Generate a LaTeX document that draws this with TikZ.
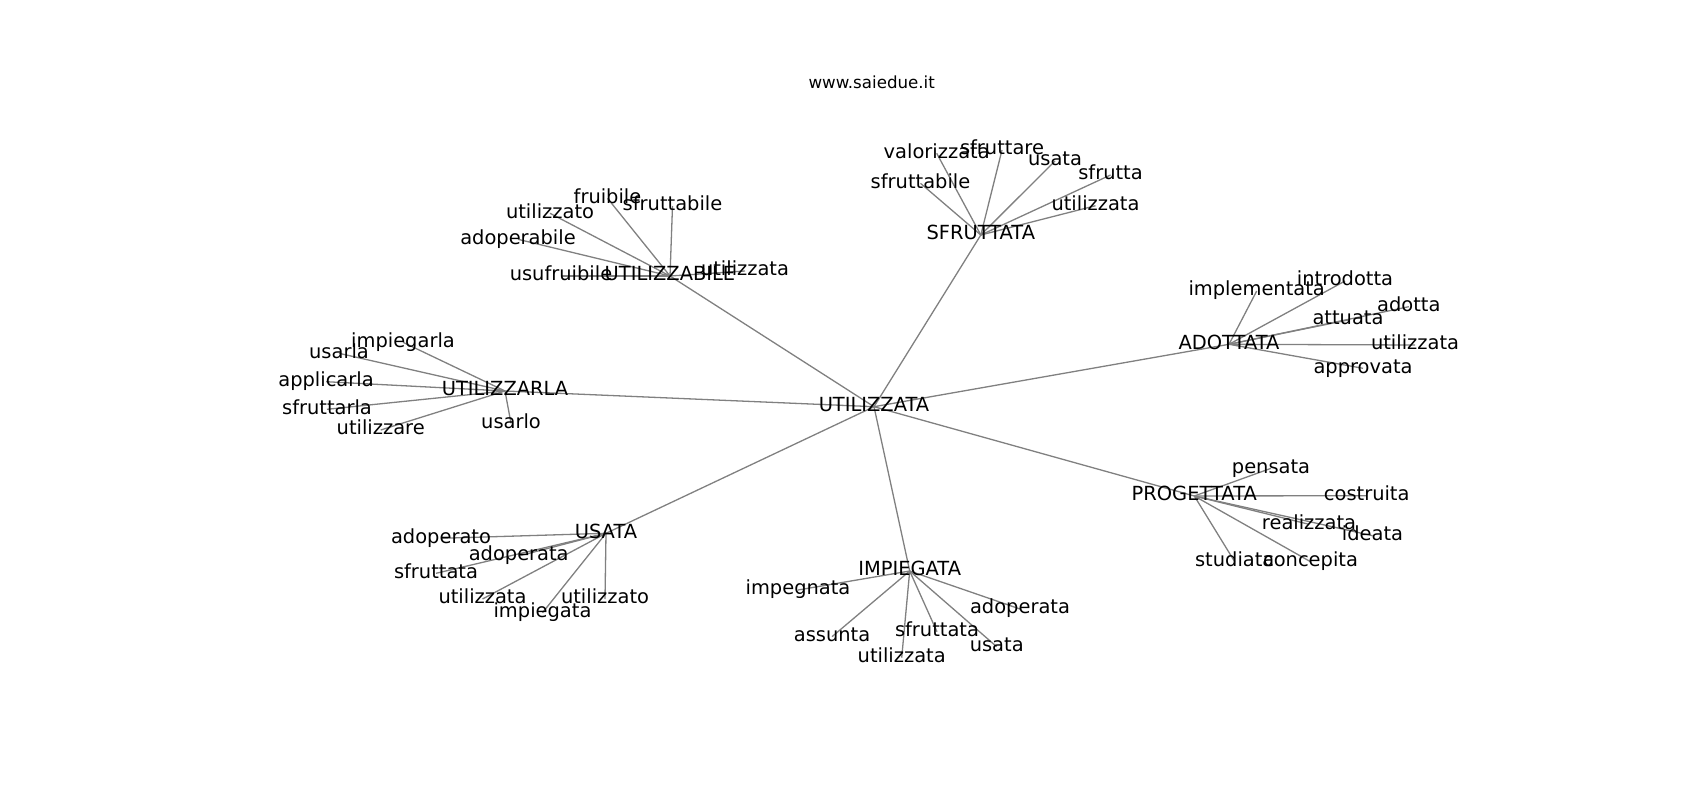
\documentclass[tikz,border=0pt]{standalone}
\usepackage{fontspec}
\setmainfont{DejaVu Sans}
\usetikzlibrary{backgrounds}
\definecolor{edgegray}{rgb}{0.5,0.5,0.5}
\tikzset{
  lbl/.style={inner sep=0pt, outer sep=0pt, anchor=center, text height=0.97em, text depth=0em,
    font=\fontsize{19.44}{23}\selectfont, text=black},
  ttl/.style={inner sep=0pt, outer sep=0pt, anchor=base, font=\fontsize{16.67}{20}\selectfont, text=black},
  edge/.style={draw=edgegray, line width=1.3pt}
}
\begin{document}
\begin{tikzpicture}[x=1pt,y=-1pt]
\useasboundingbox (0,0) rectangle (1700,800);
\node[ttl] (title) at (871.7,88.3) {www.saiedue.it};
% centre
\node[lbl] (C) at (874,406.7) {UTILIZZATA};
% UTILIZZABILE
\node[lbl] (H1) at (670,276) {UTILIZZABILE};
\node[lbl] (a1) at (561,276) {usufruibile};
\node[lbl] (a2) at (745,271) {utilizzata};
\node[lbl] (a3) at (607.5,198.3) {fruibile};
\node[lbl] (a4) at (672.5,206) {sfruttabile};
\node[lbl] (a5) at (550,213.3) {utilizzato};
\node[lbl] (a6) at (518,239.3) {adoperabile};
% UTILIZZARLA
\node[lbl] (H2) at (505,391) {UTILIZZARLA};
\node[lbl] (b1) at (403,342.3) {impiegarla};
\node[lbl] (b2) at (339,353.3) {usarla};
\node[lbl] (b3) at (326,381.7) {applicarla};
\node[lbl] (b4) at (327,409.3) {sfruttarla};
\node[lbl] (b5) at (380.7,430) {utilizzare};
\node[lbl] (b6) at (511,423.3) {usarlo};
% USATA
\node[lbl] (H3) at (606,533.3) {USATA};
\node[lbl] (c1) at (441,538.3) {adoperato};
\node[lbl] (c2) at (518.7,556) {adoperata};
\node[lbl] (c3) at (436,573.3) {sfruttata};
\node[lbl] (c4) at (482.5,599) {utilizzata};
\node[lbl] (c5) at (542.5,612.7) {impiegata};
\node[lbl] (c6) at (605,599) {utilizzato};
% IMPIEGATA
\node[lbl] (H4) at (909.7,571) {IMPIEGATA};
\node[lbl] (d1) at (798,590) {impegnata};
\node[lbl] (d2) at (1020,609) {adoperata};
\node[lbl] (d3) at (832,636.7) {assunta};
\node[lbl] (d4) at (937,631.7) {sfruttata};
\node[lbl] (d5) at (996.7,646.7) {usata};
\node[lbl] (d6) at (901.7,657.7) {utilizzata};
% ADOTTATA
\node[lbl] (H5) at (1229,344.3) {ADOTTATA};
\node[lbl] (e1) at (1256.7,291) {implementata};
\node[lbl] (e2) at (1345,281) {introdotta};
\node[lbl] (e3) at (1408.8,306.7) {adotta};
\node[lbl] (e4) at (1348,320) {attuata};
\node[lbl] (e5) at (1415,345) {utilizzata};
\node[lbl] (e6) at (1363,368.3) {approvata};
% SFRUTTATA
\node[lbl] (H6) at (980.8,235) {SFRUTTATA};
\node[lbl] (f1) at (936.7,153.3) {valorizzata};
\node[lbl] (f2) at (1002,150) {sfruttare};
\node[lbl] (f3) at (1055,161) {usata};
\node[lbl] (f4) at (920.5,183.3) {sfruttabile};
\node[lbl] (f5) at (1110.5,175) {sfrutta};
\node[lbl] (f6) at (1095.5,205.7) {utilizzata};
% PROGETTATA
\node[lbl] (H7) at (1194.3,496) {PROGETTATA};
\node[lbl] (g1) at (1271,468.3) {pensata};
\node[lbl] (g2) at (1366.7,495.7) {costruita};
\node[lbl] (g3) at (1309,524.3) {realizzata};
\node[lbl] (g4) at (1372.5,535.7) {ideata};
\node[lbl] (g5) at (1234.7,561.7) {studiata};
\node[lbl] (g6) at (1310.5,561.7) {concepita};
\begin{scope}[on background layer]
\foreach \h in {H1,H2,H3,H4,H5,H6,H7}{\draw[edge] (C.center) -- (\h.center);}
\foreach \l in {a1,a2,a3,a4,a5,a6}{\draw[edge] (H1.center) -- (\l.center);}
\foreach \l in {b1,b2,b3,b4,b5,b6}{\draw[edge] (H2.center) -- (\l.center);}
\foreach \l in {c1,c2,c3,c4,c5,c6}{\draw[edge] (H3.center) -- (\l.center);}
\foreach \l in {d1,d2,d3,d4,d5,d6}{\draw[edge] (H4.center) -- (\l.center);}
\foreach \l in {e1,e2,e3,e4,e5,e6}{\draw[edge] (H5.center) -- (\l.center);}
\foreach \l in {f1,f2,f3,f4,f5,f6}{\draw[edge] (H6.center) -- (\l.center);}
\foreach \l in {g1,g2,g3,g4,g5,g6}{\draw[edge] (H7.center) -- (\l.center);}
\end{scope}
\end{tikzpicture}
\end{document}
